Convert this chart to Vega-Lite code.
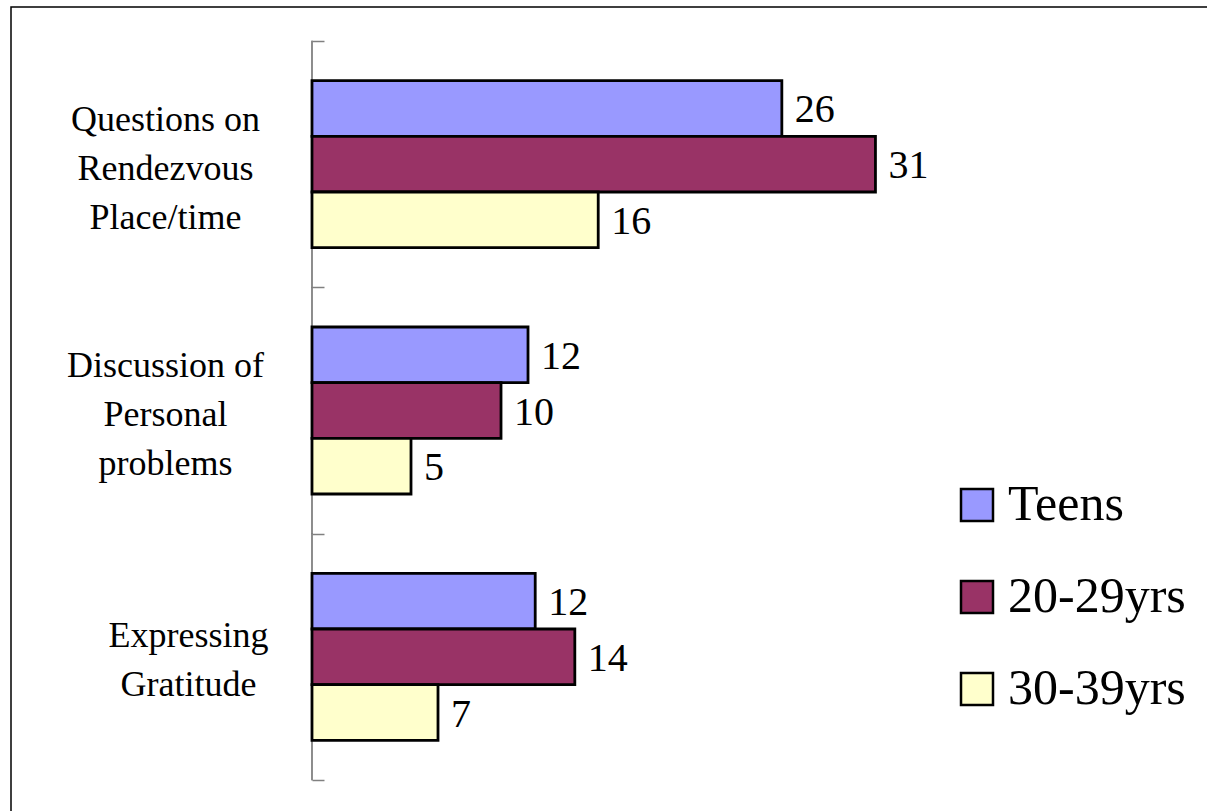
{
  "$schema": "https://vega.github.io/schema/vega-lite/v6.json",
  "width": 1200,
  "height": 807,
  "autosize": {"type": "none"},
  "padding": {"left": 11, "top": 7, "right": 0, "bottom": 0},
  "background": "white",
  "config": {
    "view": {"stroke": "#000000", "strokeWidth": 1.5},
    "font": "Liberation Serif"
  },
  "data": {
    "values": [
      {"category": "Questions on Rendezvous Place/time", "series": "Teens", "value": 26.1, "label": "26"},
      {"category": "Questions on Rendezvous Place/time", "series": "20-29yrs", "value": 31.3, "label": "31"},
      {"category": "Questions on Rendezvous Place/time", "series": "30-39yrs", "value": 15.9, "label": "16"},
      {"category": "Discussion of Personal problems", "series": "Teens", "value": 12.0, "label": "12"},
      {"category": "Discussion of Personal problems", "series": "20-29yrs", "value": 10.5, "label": "10"},
      {"category": "Discussion of Personal problems", "series": "30-39yrs", "value": 5.5, "label": "5"},
      {"category": "Expressing Gratitude", "series": "Teens", "value": 12.4, "label": "12"},
      {"category": "Expressing Gratitude", "series": "20-29yrs", "value": 14.6, "label": "14"},
      {"category": "Expressing Gratitude", "series": "30-39yrs", "value": 7.0, "label": "7"}
    ]
  },
  "layer": [
    {
      "mark": {"type": "tick", "color": "#808080", "thickness": 1.5, "size": 247},
      "encoding": {
        "x": {"datum": 0, "type": "quantitative", "scale": {"domain": [-16.72, 49.94], "nice": false, "zero": false}, "axis": null},
        "y": {"field": "category", "type": "nominal", "sort": ["Questions on Rendezvous Place/time", "Discussion of Personal problems", "Expressing Gratitude"]}
      }
    },
    {
      "mark": {"type": "bar", "stroke": "#000000", "strokeWidth": 2.8},
      "encoding": {
        "x": {"field": "value", "type": "quantitative", "scale": {"domain": [-16.72, 49.94], "nice": false, "zero": false}, "axis": null},
        "y": {
          "field": "category",
          "type": "nominal",
          "sort": ["Questions on Rendezvous Place/time", "Discussion of Personal problems", "Expressing Gratitude"],
          "scale": {"paddingInner": 0, "paddingOuter": 0.138},
          "axis": {
            "title": null,
            "orient": "left",
            "offset": -301,
            "domain": false,
            "tickBand": "extent",
            "tickSize": -12,
            "tickColor": "#808080",
            "tickWidth": 1.5,
            "labelFont": "Liberation Serif",
            "labelFontSize": 36,
            "labelColor": "#000000",
            "labelAlign": "center",
            "labelBaseline": "middle",
            "labelLineHeight": 49,
            "labelLimit": 400,
            "labelOffset": {"condition": {"test": "datum.value === 'Expressing Gratitude'", "value": -21}, "value": -45},
            "labelPadding": {"condition": {"test": "datum.value === 'Expressing Gratitude'", "value": 136}, "value": 159},
            "labelExpr": "datum.value == 'Questions on Rendezvous Place/time' ? ['Questions on', 'Rendezvous', 'Place/time'] : datum.value == 'Discussion of Personal problems' ? ['Discussion of', 'Personal', 'problems'] : datum.value == 'Expressing Gratitude' ? ['Expressing', 'Gratitude'] : ''"
          }
        },
        "yOffset": {"field": "series", "type": "nominal", "sort": ["Teens", "20-29yrs", "30-39yrs"], "scale": {"paddingInner": 0, "paddingOuter": 0.7125}},
        "fill": {
          "field": "series",
          "type": "nominal",
          "sort": ["Teens", "20-29yrs", "30-39yrs"],
          "scale": {"domain": ["Teens", "20-29yrs", "30-39yrs"], "range": ["#9999FF", "#993366", "#FFFFCC"]},
          "legend": {
            "title": null,
            "orient": "none",
            "legendX": 941,
            "legendY": 473,
            "padding": 0,
            "symbolType": "square",
            "symbolSize": 1024,
            "symbolStrokeColor": "#000000",
            "symbolStrokeWidth": 2.5,
            "symbolOpacity": 1,
            "labelFont": "Liberation Serif",
            "labelFontSize": 50,
            "labelLimit": 400,
            "labelColor": "#000000",
            "labelOffset": 6,
            "rowPadding": 42
          }
        }
      }
    },
    {
      "mark": {"type": "text", "align": "left", "baseline": "middle", "dx": 13, "dy": 2, "fontSize": 40, "font": "Liberation Serif", "color": "#000000"},
      "encoding": {
        "x": {"field": "value", "type": "quantitative"},
        "y": {"field": "category", "type": "nominal", "sort": ["Questions on Rendezvous Place/time", "Discussion of Personal problems", "Expressing Gratitude"]},
        "yOffset": {"field": "series", "type": "nominal", "sort": ["Teens", "20-29yrs", "30-39yrs"]},
        "text": {"field": "label"}
      }
    }
  ]
}
